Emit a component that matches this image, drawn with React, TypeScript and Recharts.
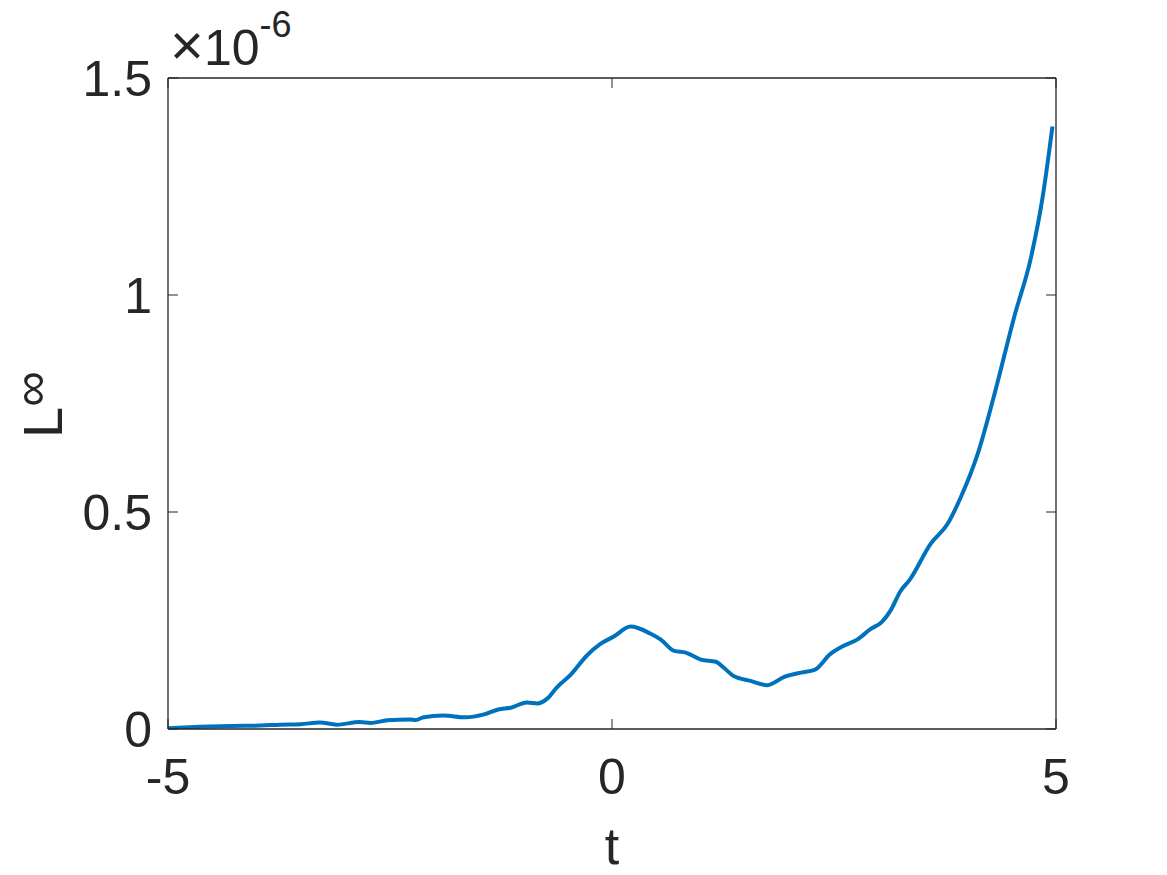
import React from 'react';
import { LineChart, Line, XAxis, YAxis, Customized } from 'recharts';

// values, L-inf in units of 1e-6
const tValues = [
    -5.0, -4.64, -4.3, -3.96, -3.74, -3.51, -3.29, -3.1, -2.84, -2.72, -2.53, -2.27, -2.21, -2.12,
    -1.9, -1.65, -1.45, -1.28, -1.14, -0.96, -0.84, -0.73, -0.62, -0.47, -0.28, -0.13, 0.02, 0.21,
    0.43, 0.55, 0.7, 0.83, 1.0, 1.17, 1.26, 1.37, 1.56, 1.75, 1.94, 2.13, 2.28, 2.46, 2.61, 2.76,
    2.91, 3.04, 3.14, 3.25, 3.35, 3.59, 3.78, 3.93, 4.12, 4.3, 4.53, 4.72, 4.85, 4.96,
];
const errValues = [
    0.002, 0.005, 0.007, 0.008, 0.01, 0.011, 0.015, 0.01, 0.016, 0.014, 0.02, 0.022, 0.021, 0.027,
    0.031, 0.027, 0.033, 0.045, 0.049, 0.061, 0.059, 0.07, 0.096, 0.124, 0.17, 0.196, 0.213, 0.236,
    0.22, 0.206, 0.18, 0.176, 0.16, 0.155, 0.141, 0.122, 0.111, 0.101, 0.12, 0.13, 0.136, 0.173, 0.192,
    0.206, 0.23, 0.247, 0.274, 0.318, 0.343, 0.427, 0.473, 0.535, 0.635, 0.766, 0.95, 1.088, 1.226,
    1.388,
];
const xTicks = [-5, 0, 5];
const yTicks = [0, 0.5, 1, 1.5];

const data = tValues.map((t, i) => ({ t, err: errValues[i] }));

const INK = '#262626';
const FONT = '"Liberation Sans", Arial, Helvetica, sans-serif';
const TICK_LEN = 10;

const LeftTick = (props: any) => {
    const { x, y, payload } = props;
    return (
        <g>
            <line x1={x + 16} x2={x + 16 + TICK_LEN} y1={y} y2={y} stroke={INK} strokeWidth={1} />
            <text x={x} y={y} dy={18} textAnchor="end" fontSize={50} fontFamily={FONT} fill={INK}>
                {String(payload.value)}
            </text>
        </g>
    );
};

const RightTick = (props: any) => {
    const { x, y } = props;
    return <line x1={x - TICK_LEN} x2={x} y1={y} y2={y} stroke={INK} strokeWidth={1} />;
};

const BottomTick = (props: any) => {
    const { x, y, payload } = props;
    return (
        <g>
            <line x1={x} x2={x} y1={y} y2={y - TICK_LEN} stroke={INK} strokeWidth={1} />
            <text x={x} y={y} dy={65} textAnchor="middle" fontSize={50} fontFamily={FONT} fill={INK}>
                {String(payload.value)}
            </text>
        </g>
    );
};

const TopTick = (props: any) => {
    const { x, y } = props;
    return <line x1={x} x2={x} y1={y} y2={y + TICK_LEN} stroke={INK} strokeWidth={1} />;
};

const Labels = () => (
    <g fontFamily={FONT} fill={INK}>
        <text x={170} y={65} fontSize={50}>
            <tspan fontSize={58}>×</tspan>
            <tspan>10</tspan>
            <tspan fontSize={36} dy={-28}>-6</tspan>
        </text>
        <text x={612} y={864} fontSize={52} textAnchor="middle">t</text>
        <text transform="translate(62, 438) rotate(-90)" fontSize={56}>
            <tspan>L</tspan>
            <tspan fontSize={50} dy={-14}>∞</tspan>
        </text>
    </g>
);

export default function App() {
    return (
        <div style={{ position: 'absolute', left: 0, top: 0, background: '#fff' }}>
            <LineChart
                width={1167}
                height={875}
                data={data}
                margin={{ top: 68, right: 101, bottom: 46, left: 68 }}
            >
                <XAxis
                    dataKey="t"
                    type="number"
                    domain={[-5, 5]}
                    ticks={xTicks}
                    height={100}
                    tickSize={0}
                    tickMargin={0}
                    tick={<BottomTick />}
                    axisLine={{ stroke: INK, strokeWidth: 1.3 }}
                    tickLine={false}
                    allowDataOverflow
                />
                <XAxis
                    xAxisId="top"
                    orientation="top"
                    dataKey="t"
                    type="number"
                    domain={[-5, 5]}
                    ticks={xTicks}
                    height={10}
                    tickSize={0}
                    tickMargin={0}
                    tick={<TopTick />}
                    axisLine={{ stroke: INK, strokeWidth: 1.3 }}
                    tickLine={false}
                    allowDataOverflow
                />
                <YAxis
                    type="number"
                    domain={[0, 1.5]}
                    ticks={yTicks}
                    width={100}
                    tickSize={0}
                    tickMargin={16}
                    tick={<LeftTick />}
                    axisLine={{ stroke: INK, strokeWidth: 1.3 }}
                    tickLine={false}
                    allowDataOverflow
                />
                <YAxis
                    yAxisId="r"
                    orientation="right"
                    type="number"
                    domain={[0, 1.5]}
                    ticks={yTicks}
                    width={10}
                    tickSize={0}
                    tickMargin={0}
                    tick={<RightTick />}
                    axisLine={{ stroke: INK, strokeWidth: 1.3 }}
                    tickLine={false}
                    allowDataOverflow
                />
                <Line
                    xAxisId="top"
                    yAxisId="r"
                    dataKey="err"
                    stroke="none"
                    dot={false}
                    activeDot={false}
                    isAnimationActive={false}
                />
                <Line
                    type="monotone"
                    dataKey="err"
                    stroke="#0072BD"
                    strokeWidth={4}
                    dot={false}
                    activeDot={false}
                    isAnimationActive={false}
                />
                <Customized component={Labels} />
            </LineChart>
        </div>
    );
}
